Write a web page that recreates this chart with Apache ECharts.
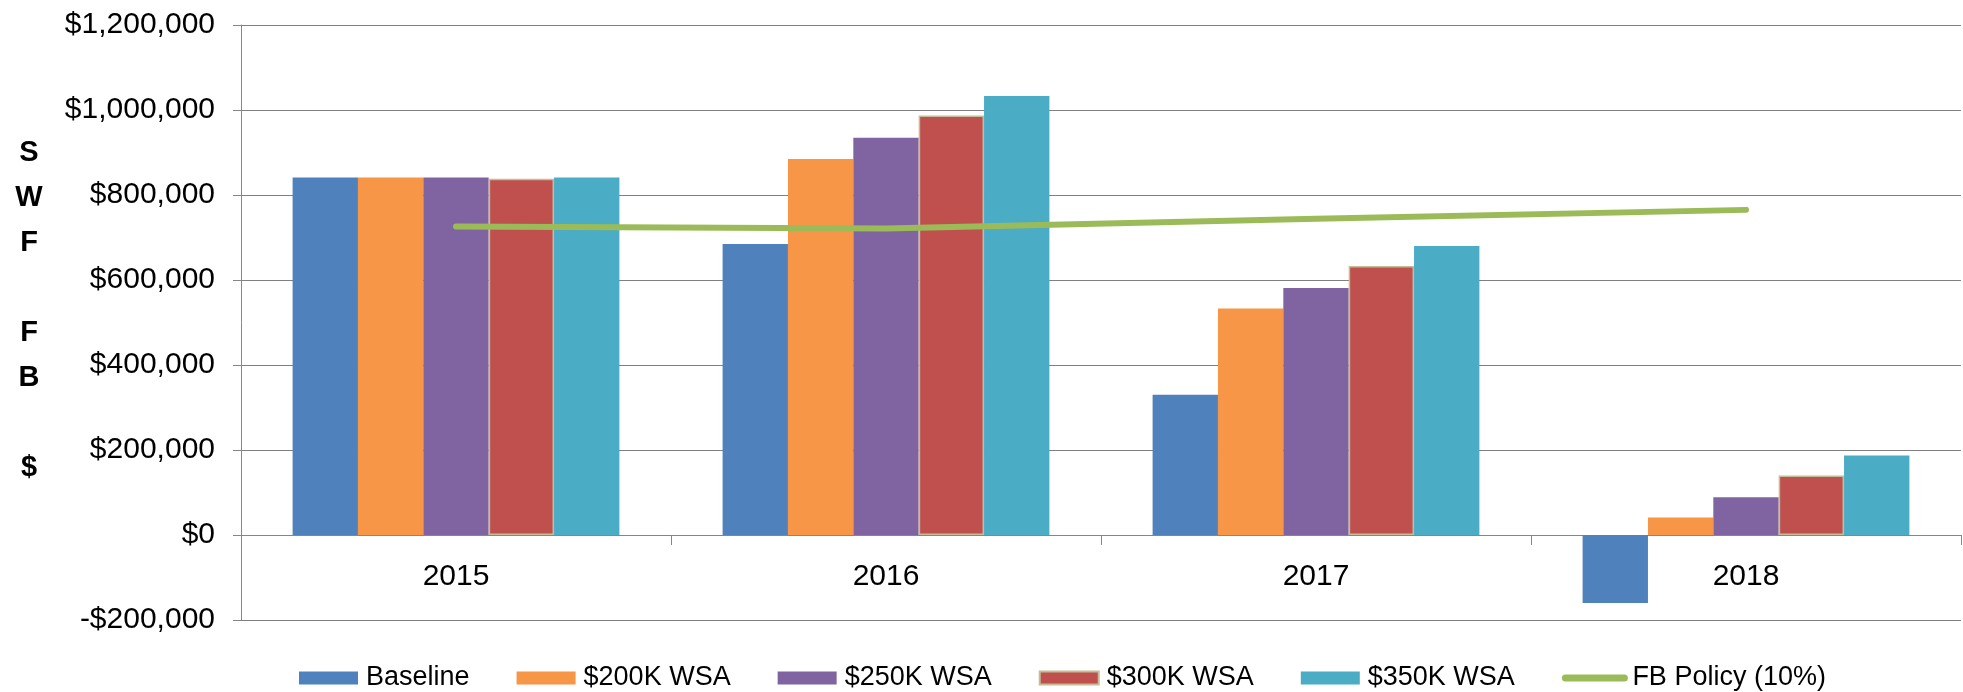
<!DOCTYPE html>
<html>
<head>
<meta charset="utf-8">
<script src="https://cdn.jsdelivr.net/npm/echarts@6/dist/echarts.min.js"></script>
<style>
  html, body { margin: 0; padding: 0; background: #fff; }
  #chart { width: 1963px; height: 692px; }
</style>
</head>
<body>
<div id="chart"></div>
<script>
const categories = ['2015', '2016', '2017', '2018'];
const baseline = [841000, 685000, 330000, -160000];
const wsa200 = [841000, 885000, 533000, 41000];
const wsa250 = [841000, 935000, 581000, 89000];
const wsa300 = [838000, 987000, 633000, 140000];
const wsa350 = [841000, 1033000, 680000, 187000];
const fbPolicy = [726000, 721000, 744000, 765000];
const yTicks = { min: -200000, max: 1200000, interval: 200000 };
const yTitle = 'S\nW\nF\n\nF\nB\n\n$';

const FONT = '"Liberation Sans", Arial, sans-serif';
const chart = echarts.init(document.getElementById('chart'), null, { renderer: 'canvas' });

const gridTop = 25, gridBottom = 72, gridHeight = 692 - gridTop - gridBottom;
// distance of the zero line above the bottom of the plot, from the axis range
const zeroOffset = gridHeight * (0 - yTicks.min) / (yTicks.max - yTicks.min);

function bar(name, data, color, extra) {
  return {
    name: name,
    type: 'bar',
    data: data,
    barGap: '0%',
    barCategoryGap: '24%',
    itemStyle: Object.assign({ color: color }, extra || {})
  };
}

chart.setOption({
  animation: false,
  backgroundColor: '#fff',
  textStyle: { fontFamily: FONT },
  grid: { left: 241, right: 2, top: gridTop, bottom: gridBottom, containLabel: false },
  graphic: [{
    type: 'text',
    x: 29, y: 130,
    style: {
      text: yTitle,
      align: 'center',
      verticalAlign: 'top',
      lineHeight: 45,
      fontSize: 29,
      fontWeight: 'bold',
      fontFamily: FONT,
      fill: '#000'
    }
  }],
  legend: {
    left: 294,
    top: 659,
    itemWidth: 59,
    itemHeight: 13,
    itemGap: 47,
    textStyle: { fontSize: 27, color: '#000', lineHeight: 28, fontFamily: FONT, padding: [0, 0, 0, 3] },
    data: [
      { name: 'Baseline', icon: 'rect' },
      { name: '$200K WSA', icon: 'rect' },
      { name: '$250K WSA', icon: 'rect' },
      { name: '$300K WSA', icon: 'rect' },
      { name: '$350K WSA', icon: 'rect' },
      { name: 'FB Policy (10%)', itemStyle: { opacity: 0 },
        lineStyle: { width: 7, color: '#9BBB59', cap: 'round' } }]
  },
  xAxis: {
    type: 'category',
    data: categories,
    position: 'bottom',
    offset: -zeroOffset,
    axisLine: { onZero: false, lineStyle: { color: '#868686', width: 1 } },
    axisTick: { show: true, length: 10, lineStyle: { color: '#868686' } },
    axisLabel: { fontSize: 30, color: '#000', margin: 27, lineHeight: 30, fontFamily: FONT },
    splitLine: { show: false }
  },
  yAxis: {
    type: 'value',
    min: yTicks.min,
    max: yTicks.max,
    interval: yTicks.interval,
    axisLine: { show: true, lineStyle: { color: '#868686', width: 1 } },
    axisTick: { show: true, length: 8, lineStyle: { color: '#868686' } },
    axisLabel: {
      fontSize: 30, color: '#000', margin: 26, fontFamily: FONT,
      formatter: v => (v < 0 ? '-$' : '$') + Math.abs(v).toLocaleString('en-US')
    },
    splitLine: { show: true, lineStyle: { color: '#808080', width: 1 } }
  },
  series: [
    bar('Baseline', baseline, '#4F81BD'),
    bar('$200K WSA', wsa200, '#F79646'),
    bar('$250K WSA', wsa250, '#8064A2'),
    bar('$300K WSA', wsa300, '#C0504D', { borderColor: '#C4BD97', borderWidth: 1.5 }),
    bar('$350K WSA', wsa350, '#4BACC6'),
    {
      name: 'FB Policy (10%)',
      type: 'line',
      data: fbPolicy,
      symbol: 'none',
      smooth: false,
      z: 5,
      lineStyle: { color: '#9BBB59', width: 6, cap: 'round', join: 'round' },
      itemStyle: { color: '#9BBB59' }
    }
  ]
});
</script>
</body>
</html>
